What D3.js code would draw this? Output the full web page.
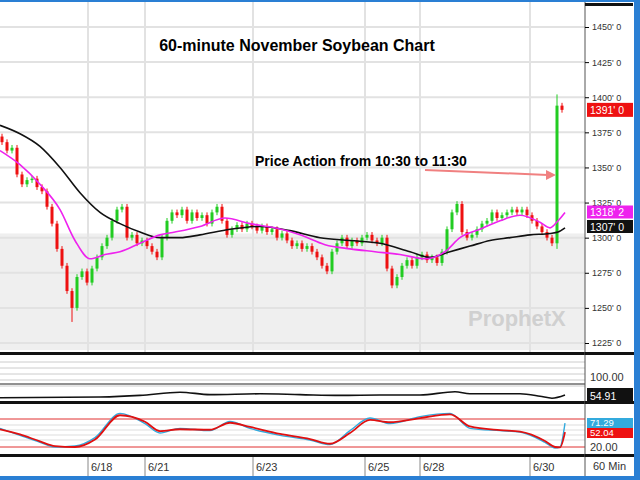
<!DOCTYPE html><html><head><script src="https://d3js.org/d3.v7.min.js"></script>
<style>body{margin:0}text{font-family:Arial,"Liberation Sans",sans-serif}</style></head><body>
<svg id="c" width="640" height="480"></svg>
<script>
const closes=[1368,1362,1364,1345,1338,1341,1342,1336,1333,1322,1310,1292,1280,1262,1250,1272,1276,1268,1278,1286,1294,1300,1312,1320,1322,1300,1302,1296,1298,1294,1290,1286,1300,1312,1318,1316,1320,1312,1318,1314,1316,1310,1318,1322,1312,1302,1306,1309,1306,1310,1308,1305,1308,1304,1306,1300,1303,1298,1294,1296,1292,1294,1290,1286,1280,1276,1290,1296,1300,1294,1298,1296,1300,1302,1298,1296,1300,1278,1266,1272,1280,1284,1280,1286,1288,1284,1286,1282,1290,1306,1318,1324,1304,1300,1302,1306,1310,1312,1318,1314,1316,1318,1320,1318,1320,1316,1312,1308,1304,1300,1296,1394,1391];
const firstOpen=1372;
const maFast=[[0,1362],[20,1352],[40,1338],[60,1320],[75,1298],[90,1285],[105,1288],[120,1290],[140,1296],[160,1302],[175,1304],[200,1308],[225,1314],[250,1310],[275,1307],[300,1302],[325,1295],[350,1292],[375,1290],[400,1288],[425,1285],[445,1290],[460,1300],[480,1306],[500,1312],[520,1316],[540,1311],[550,1307],[558,1312],[565,1318]];
const maSlow=[[0,1380],[20,1374],[40,1365],[60,1350],[80,1332],[100,1318],[120,1310],[140,1304],[160,1300],[180,1300],[200,1302],[230,1306],[260,1308],[290,1305],[320,1300],[350,1298],[380,1296],[410,1290],[430,1286],[450,1290],[470,1294],[490,1298],[510,1300],[530,1302],[550,1303],[558,1304],[565,1307]];
const midLine=[[0,48],[100,50],[140,54],[180,62],[210,56],[260,58],[300,56],[340,54],[380,55],[420,55],[455,63],[470,58],[500,58],[520,58],[540,52],[552,47],[565,55]];
const stochK=[[0,60],[20,45],[40,30],[55,20],[75,22],[95,40],[120,92],[145,70],[160,50],[180,60],[210,55],[230,75],[250,60],[280,45],[310,35],[330,25],[350,55],[370,82],[390,70],[420,85],[450,92],[470,60],[500,55],[520,52],[545,30],[555,18],[560,20],[565,71]];
const stochD=[[0,58],[20,47],[40,32],[55,22],[75,20],[95,36],[120,88],[145,74],[160,54],[180,58],[210,57],[230,72],[250,63],[280,48],[310,37],[330,27],[350,50],[370,78],[390,73],[420,82],[450,90],[470,64],[500,56],[520,53],[545,33],[555,20],[560,19],[565,52]];
const priceTicks=[1450,1425,1400,1375,1350,1325,1300,1275,1250,1225];
const dateLabels=[["6/18",88],["6/21",145],["6/23",253],["6/25",365],["6/28",420],["6/30",530]];
const svg=d3.select("#c");
const W=585;
const y=d3.scaleLinear().domain([1225,1450]).range([343,27]);
const xi=d3.scaleLinear().domain([0,1]).range([2,7]);
const yM=d3.scaleLinear().domain([0,100]).range([417,377]);
const yS=d3.scaleLinear().domain([20,80]).range([447,419]);
svg.append("rect").attr("width",640).attr("height",480).attr("fill","#fff");
svg.append("rect").attr("x",0).attr("y",y(1303)).attr("width",W).attr("height",350-y(1303)).attr("fill","#efefef");
priceTicks.forEach(t=>svg.append("line").attr("x1",0).attr("x2",W).attr("y1",y(t)).attr("y2",y(t)).attr("stroke","#e2e2e2").attr("stroke-width",2));
dateLabels.forEach(d=>svg.append("line").attr("x1",d[1]).attr("x2",d[1]).attr("y1",0).attr("y2",352).attr("stroke","#e2e2e2").attr("stroke-width",2));
const line=(sy)=>d3.line().x(d=>d[0]).y(d=>sy(d[1])).curve(d3.curveMonotoneX);
closes.forEach((c,i)=>{const o=i?closes[i-1]:firstOpen;const up=c>=o;const col=up?"#22cc22":"#ee1111";
 const hi=Math.max(o,c)+(i==111?8:2),lo=Math.min(o,c)-(i==14?10:i==111?4:2);
 svg.append("line").attr("x1",xi(i)).attr("x2",xi(i)).attr("y1",y(hi)).attr("y2",y(lo)).attr("stroke",col);
 svg.append("rect").attr("x",xi(i)-1.5).attr("width",3).attr("y",y(Math.max(o,c))).attr("height",Math.max(1,Math.abs(y(o)-y(c)))).attr("fill",col);});
svg.append("path").attr("d",line(y)(maSlow)).attr("fill","none").attr("stroke","#111").attr("stroke-width",1.6);
svg.append("path").attr("d",line(y)(maFast)).attr("fill","none").attr("stroke","#ee22ee").attr("stroke-width",1.6);
svg.append("text").attr("x",297).attr("y",51).attr("text-anchor","middle").attr("font-size",16).attr("font-weight","bold").text("60-minute November Soybean Chart");
svg.append("text").attr("x",255).attr("y",166).attr("font-size",14).attr("font-weight","bold").text("Price Action from 10:30 to 11:30");
svg.append("line").attr("x1",425).attr("y1",170).attr("x2",548).attr("y2",175).attr("stroke","#f08080").attr("stroke-width",2);
svg.append("path").attr("d","M546,170 L556,175 L546,180 Z").attr("fill","#f08080");
svg.append("text").attr("x",468).attr("y",326).attr("font-size",22).attr("font-weight","bold").attr("fill","#d0d0d0").text("ProphetX");
svg.append("rect").attr("x",0).attr("y",352).attr("width",640).attr("height",3).attr("fill","#111");
[362,368,374,380,386].forEach(v=>svg.append("line").attr("x1",0).attr("x2",W).attr("y1",v).attr("y2",v).attr("stroke","#ccc"));
svg.append("line").attr("x1",0).attr("x2",W).attr("y1",384).attr("y2",384).attr("stroke","#222");
svg.append("path").attr("d",line(yM)(midLine)).attr("fill","none").attr("stroke","#111").attr("stroke-width",1.6);
svg.append("rect").attr("x",0).attr("y",401).attr("width",640).attr("height",3).attr("fill","#111");
[425,430,435,440].forEach(v=>svg.append("line").attr("x1",0).attr("x2",W).attr("y1",v).attr("y2",v).attr("stroke","#ddd"));
[80,20].forEach(v=>svg.append("line").attr("x1",0).attr("x2",W).attr("y1",yS(v)).attr("y2",yS(v)).attr("stroke","#e03030"));
svg.append("path").attr("d",line(yS)(stochK)).attr("fill","none").attr("stroke","#33aadd").attr("stroke-width",1.4);
svg.append("path").attr("d",line(yS)(stochD)).attr("fill","none").attr("stroke","#e01010").attr("stroke-width",1.8);
svg.append("rect").attr("x",0).attr("y",454).attr("width",640).attr("height",3).attr("fill","#111");
svg.append("rect").attr("x",W).attr("y",0).attr("width",55).attr("height",480).attr("fill","#fff");
svg.append("line").attr("x1",W).attr("x2",W).attr("y1",0).attr("y2",480).attr("stroke","#555");
svg.append("rect").attr("x",W).attr("y",352).attr("width",55).attr("height",3).attr("fill","#111");
svg.append("rect").attr("x",W).attr("y",401).attr("width",55).attr("height",3).attr("fill","#111");
svg.append("rect").attr("x",W).attr("y",454).attr("width",55).attr("height",3).attr("fill","#111");
svg.append("rect").attr("x",W).attr("y",3).attr("width",48).attr("height",3).attr("fill","#111");
const ax=d3.axisRight(y).tickValues(priceTicks).tickSize(4).tickFormat(d=>d+"' 0");
const g=svg.append("g").attr("transform",`translate(${W},0)`).call(ax);
g.select(".domain").remove();g.selectAll("text").attr("font-size",9).attr("fill","#333");
function tag(v,yy,bg,fg,h){h=h||14;svg.append("rect").attr("x",W+2).attr("y",yy-h/2).attr("width",46).attr("height",h).attr("fill",bg);
 svg.append("text").attr("x",W+5).attr("y",yy+h/2-2.5).attr("font-size",h<12?9.5:10.5).attr("fill",fg).text(v);}
tag("1391' 0",y(1391),"#ee1111","#fff");tag("1318' 2",212,"#ee22ee","#fff",13);tag("1307' 0",226.5,"#111","#fff",13);
svg.append("text").attr("x",W+5).attr("y",yM(100)+4).attr("font-size",11).attr("fill","#333").text("100.00");
tag("54.91",395,"#111","#fff");
tag("71.29",423,"#33aadd","#fff",10);tag("52.04",433,"#ee1111","#fff",10);
svg.append("text").attr("x",W+5).attr("y",yS(20)+4).attr("font-size",11).attr("fill","#333").text("20.00");
dateLabels.forEach(d=>{svg.append("line").attr("x1",d[1]).attr("x2",d[1]).attr("y1",457).attr("y2",476).attr("stroke","#888");
 svg.append("text").attr("x",d[1]+3).attr("y",471).attr("font-size",11).attr("fill","#333").text(d[0]);});
svg.append("text").attr("x",W+8).attr("y",470).attr("font-size",11).attr("font-family","DejaVu Sans Mono").attr("fill","#333").text("60 Min");
svg.append("rect").attr("x",0).attr("y",476).attr("width",640).attr("height",4).attr("fill","#2a7fd4");
svg.append("rect").attr("x",634).attr("y",0).attr("width",6).attr("height",480).attr("fill","#2a7fd4");
svg.append("rect").attr("x",0).attr("y",0).attr("width",640).attr("height",2).attr("fill","#2a7fd4");
</script></body></html>
